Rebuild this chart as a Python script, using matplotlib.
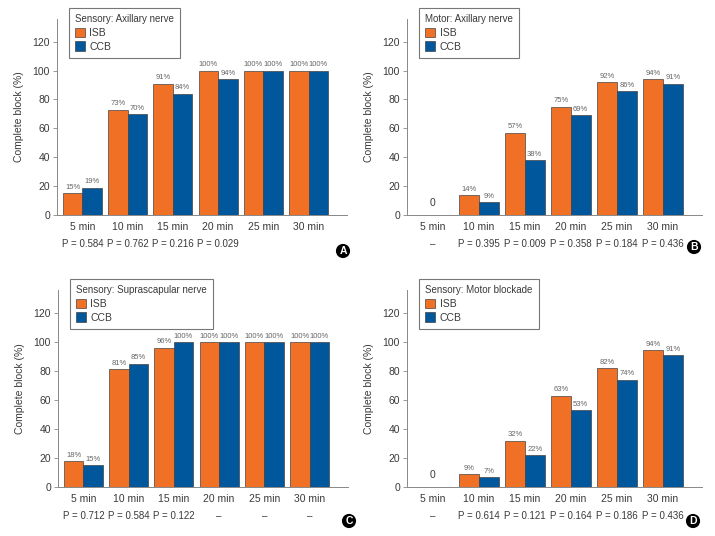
import numpy as np
import matplotlib
matplotlib.use("Agg")
import matplotlib.pyplot as plt

plt.rcParams['font.family'] = ['Liberation Sans', 'DejaVu Sans']

# data
times = ["5 min", "10 min", "15 min", "20 min", "25 min", "30 min"]

titles = ["Sensory: Axillary nerve", "Motor: Axillary nerve",
          "Sensory: Suprascapular nerve", "Sensory: Motor blockade"]

isb_a = [15, 73, 91, 100, 100, 100]
ccb_a = [19, 70, 84, 94, 100, 100]
p_a = ["P = 0.584", "P = 0.762", "P = 0.216", "P = 0.029", "", ""]

isb_b = [0, 14, 57, 75, 92, 94]
ccb_b = [0, 9, 38, 69, 86, 91]
p_b = ["–", "P = 0.395", "P = 0.009", "P = 0.358", "P = 0.184", "P = 0.436"]

isb_c = [18, 81, 96, 100, 100, 100]
ccb_c = [15, 85, 100, 100, 100, 100]
p_c = ["P = 0.712", "P = 0.584", "P = 0.122", "–", "–", "–"]

isb_d = [0, 9, 32, 63, 82, 94]
ccb_d = [0, 7, 22, 53, 74, 91]
p_d = ["–", "P = 0.614", "P = 0.121", "P = 0.164", "P = 0.186", "P = 0.436"]

panels = [
    ("A", titles[0], isb_a, ccb_a, p_a),
    ("B", titles[1], isb_b, ccb_b, p_b),
    ("C", titles[2], isb_c, ccb_c, p_c),
    ("D", titles[3], isb_d, ccb_d, p_d),
]

orange = "#F07125"
blue = "#00579B"
txt = "#3a3a3a"

W, H = 715, 536
fig = plt.figure(figsize=(W / 100, H / 100), dpi=100)

# axes boxes in pixels: left, right, y of zero, y of top
boxes = [(57, 347, 215, 18.5), (407, 702, 215, 18.5),
         (58, 348, 487, 289.5), (407, 702, 487, 289.5)]
circles = [(343, 251), (694, 247), (349, 521), (693, 521)]

x = np.arange(len(times))
w = 0.43

for (letter, title, isb, ccb, pv), (l, r, y0, yt), (cx, cy) in zip(panels, boxes, circles):
    ax = fig.add_axes([l / W, 1 - y0 / H, (r - l) / W, (y0 - yt) / H])
    ax.bar(x - w / 2, isb, w, color=orange, edgecolor="#444444", linewidth=0.5, label="ISB")
    ax.bar(x + w / 2, ccb, w, color=blue, edgecolor="#444444", linewidth=0.5, label="CCB")
    for i in range(len(times)):
        if isb[i] == 0 and ccb[i] == 0:
            ax.text(x[i], 5, "0", ha="center", va="bottom", fontsize=7.5, color=txt)
            continue
        ax.text(x[i] - w / 2, isb[i] + 1.5, f"{isb[i]}%", ha="center", va="bottom",
                fontsize=5.5, color="#666666")
        ax.text(x[i] + w / 2, ccb[i] + 1.5, f"{ccb[i]}%", ha="center", va="bottom",
                fontsize=5.5, color="#666666")

    ax.set_xlim(-0.56, 5.85)
    ax.set_ylim(0, 136)
    ax.set_yticks(range(0, 121, 20))
    ax.set_xticks(x)
    ax.set_xticklabels(times)
    ax.tick_params(axis="x", length=0, pad=5, labelsize=7.5, colors=txt)
    ax.tick_params(axis="y", length=3, width=0.6, color="#888888", labelsize=7.5, labelcolor=txt, pad=2)
    for s in ["top", "right"]:
        ax.spines[s].set_visible(False)
    for s in ["left", "bottom"]:
        ax.spines[s].set_color("#888888")
        ax.spines[s].set_linewidth(0.7)
    ax.set_ylabel("Complete block (%)", fontsize=7.5, color=txt, labelpad=6)

    for i, p in enumerate(pv):
        ax.text(x[i], -20, p, ha="center", va="center", fontsize=7, color=txt, clip_on=False)

    leg = ax.legend(title=title, loc="upper left", bbox_to_anchor=(0.04, 1.055),
                    fontsize=7.5, title_fontsize=7, frameon=True, fancybox=False,
                    handlelength=1.0, handleheight=1.0, handletextpad=0.4,
                    labelspacing=0.35, borderpad=0.6, borderaxespad=0)
    leg._legend_box.align = "left"
    leg.get_frame().set_edgecolor("#555555")
    leg.get_frame().set_linewidth(0.8)
    leg.get_title().set_color(txt)
    for t in leg.get_texts():
        t.set_color(txt)

    # panel letter in a black circle
    fig.text(cx / W, 1 - cy / H, letter, ha="center", va="center", color="white",
             fontsize=7.5, fontweight="bold",
             bbox=dict(boxstyle="circle,pad=0.2", facecolor="black", edgecolor="none"))

fig.savefig("out.png", dpi=100)
